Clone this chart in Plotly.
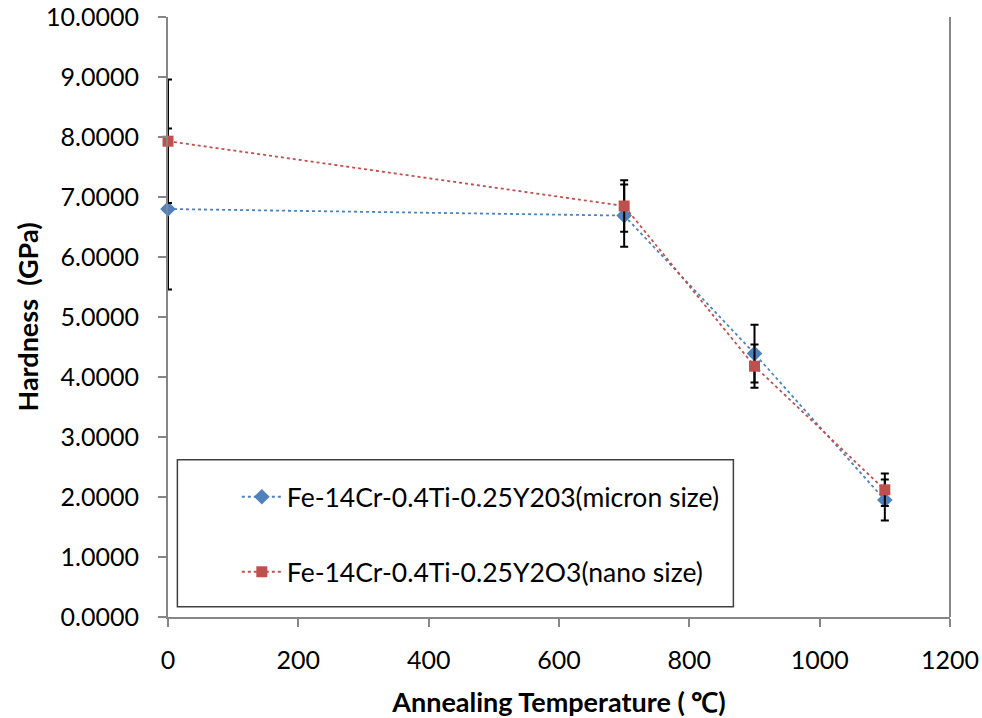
import plotly.graph_objects as go

temps = [0, 700, 900, 1100]
micron_hardness = [6.80, 6.69, 4.39, 1.95]
micron_err = [1.34, 0.52, 0.48, 0.34]
nano_hardness = [7.93, 6.85, 4.18, 2.12]
nano_err = [1.03, 0.43, 0.36, 0.27]
micron_name = "Fe-14Cr-0.4Ti-0.25Y203(micron size)"
nano_name = "Fe-14Cr-0.4Ti-0.25Y2O3(nano size)"

FONT = "Lato, 'Open Sans', sans-serif"
AX = "#868686"

fig = go.Figure()
fig.add_trace(go.Scatter(
    x=temps, y=micron_hardness, name=micron_name, mode="lines+markers",
    line=dict(color="#4F81BD", width=1.8, dash="dot"),
    marker=dict(symbol="diamond", size=12, color="#4F81BD"),
    error_y=dict(type="data", array=micron_err, visible=True, color="black", thickness=2, width=4),
    cliponaxis=False, legend="legend"))
fig.add_trace(go.Scatter(
    x=temps, y=nano_hardness, name=nano_name, mode="lines+markers",
    line=dict(color="#C0504D", width=1.8, dash="dot"),
    marker=dict(symbol="square", size=11, color="#C0504D"),
    error_y=dict(type="data", array=nano_err, visible=True, color="black", thickness=2, width=4),
    cliponaxis=False, legend="legend2"))

fig.update_layout(
    width=982, height=718,
    margin=dict(l=168, r=32, t=17, b=101, autoexpand=False),
    paper_bgcolor="white", plot_bgcolor="white",
    font=dict(family=FONT, size=25, color="black"),
    showlegend=True,
    legend=dict(x=0.088, y=0.2, xanchor="left", yanchor="middle", bgcolor="rgba(0,0,0,0)",
                font=dict(size=26.5), itemwidth=40),
    legend2=dict(x=0.088, y=0.075, xanchor="left", yanchor="middle", bgcolor="rgba(0,0,0,0)",
                 font=dict(size=26.5), itemwidth=40),
    xaxis=dict(range=[0, 1200], dtick=200, tick0=0, showgrid=False, zeroline=False,
               showline=True, linecolor=AX, linewidth=2, ticks="outside", tickcolor=AX,
               ticklen=8, tickwidth=1.5, automargin=False, ticklabelstandoff=12,
               ticklabeloverflow="allow", tickfont=dict(size=25),
               title=dict(text="<b>Annealing Temperature ( ℃)</b>", font=dict(size=27), standoff=20)),
    yaxis=dict(range=[0, 10], dtick=1, tick0=0, tickformat=".4f", showgrid=False, zeroline=False,
               showline=True, linecolor=AX, linewidth=2, ticks="outside", tickcolor=AX,
               ticklen=8, tickwidth=1.5, automargin=False, ticklabelstandoff=14,
               ticklabeloverflow="allow", tickfont=dict(size=25),
               title=dict(text="<b>Hardness  (GPa)</b>", font=dict(size=27), standoff=0)),
    shapes=[
        dict(type="line", xref="paper", yref="paper", x0=1, x1=1, y0=0, y1=1,
             line=dict(color=AX, width=2)),
        dict(type="rect", xref="paper", yref="paper", x0=0.012, x1=0.723, y0=0.017, y1=0.262,
             line=dict(color="#404040", width=1.5), fillcolor="rgba(0,0,0,0)"),
    ],
)

fig.write_html("out.html", config={"displayModeBar": False},
               post_script="document.body.style.margin='0';")
